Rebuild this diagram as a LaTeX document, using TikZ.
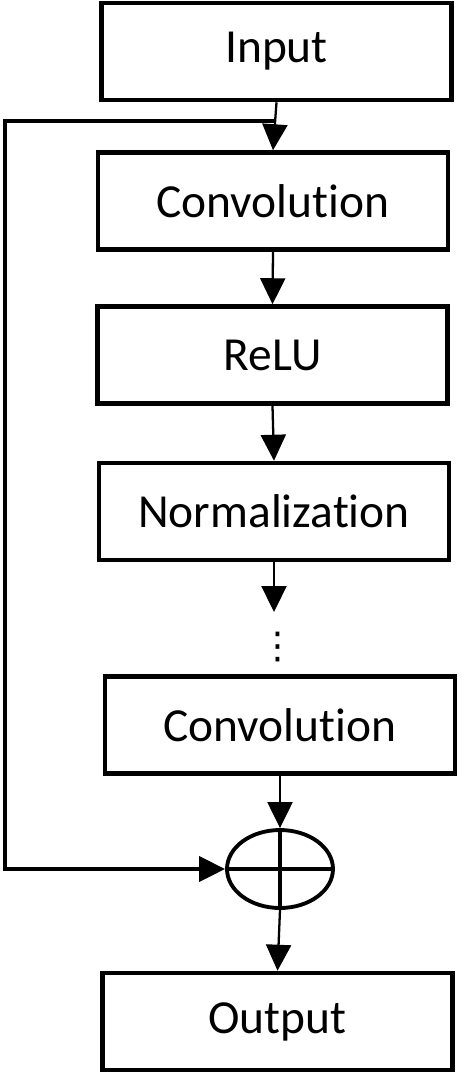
\documentclass[tikz,border=0pt]{standalone}
\usepackage{fontspec}
\setmainfont{Carlito}[Ligatures=NoCommon]
\newfontfamily\symfont{DejaVu Sans}
\usepackage{tikz}
\usetikzlibrary{arrows.meta, shapes.geometric}

\begin{document}
\begin{tikzpicture}[
  x=0.02cm, y=-0.02cm,
  blk/.style={
    draw, line width=2.6pt,
    minimum width=7cm, minimum height=1.94cm,
    font=\fontsize{27}{30}\selectfont
  },
  arr/.style={
    line width=1.3pt,
    -{Triangle[length=0.52cm, width=0.5cm]}
  }
]
  \useasboundingbox (0,0) rectangle (461,1075);
  \node[blk] (inp) at (276.5,51.5){Input};
  \node[blk] (conv1) at (273,201){Convolution};
  \node[blk] (relu) at (272.5,355){ReLU};
  \node[blk] (norm) at (274,511.5){Normalization};
  \node[inner sep=0pt, font=\symfont\fontsize{21}{21}\selectfont] (dots) at (278,647){⋮};
  \node[blk] (conv2) at (280,725){Convolution};
  \node[ellipse, draw, line width=2.2pt,
    minimum width=2.12cm, minimum height=1.56cm] (sum) at (280,869){};
  \draw[line width=2.2pt] (sum.north)--(sum.south) (sum.west)--(sum.east);
  \node[blk] (outp) at (277.5,1021.5){Output};
  \draw[arr] (inp.south)--(conv1.north);
  \draw[arr] (conv1.south)--(relu.north);
  \draw[arr] (relu.south)--(norm.north);
  \draw[arr] (norm.south)--(norm.south |- 0,612);
  \draw[arr] (conv2.south)--(sum.north);
  \draw[arr] (sum.south)--(outp.north);
  % skip connection
  \coordinate (tap) at (274,121);
  \draw[arr, line width=2.2pt] (tap)--(5,121) |- (sum.west);
\end{tikzpicture}
\end{document}
